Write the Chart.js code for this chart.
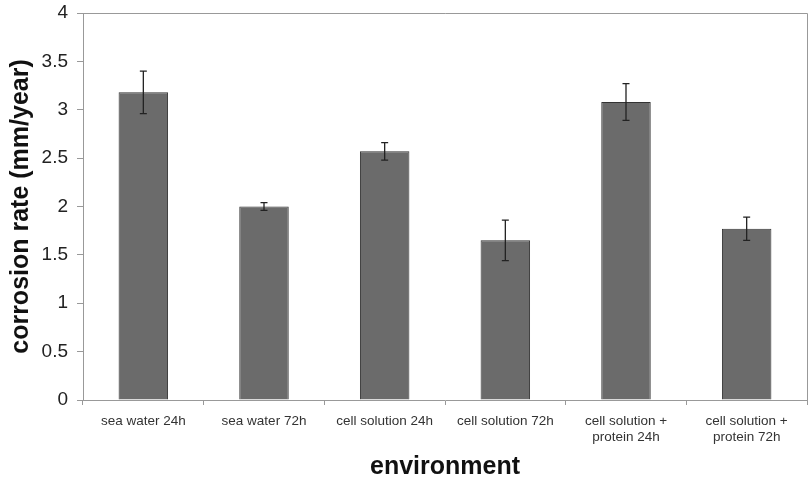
<!DOCTYPE html>
<html>
<head>
<meta charset="utf-8">
<script src="https://cdn.jsdelivr.net/npm/chart.js@4.4.1/dist/chart.umd.min.js"></script>
<style>
  html, body { margin: 0; padding: 0; background: #fff; }
  #wrap { width: 811px; height: 489px; }
</style>
</head>
<body>
<div id="wrap"><canvas id="canvas" width="811" height="489"></canvas></div>
<script>
var categories = [
    'sea water 24h',
    'sea water 72h',
    'cell solution 24h',
    'cell solution 72h',
    ['cell solution +', 'protein 24h'],
    ['cell solution +', 'protein 72h']
];
var corrosionRate = [3.18, 2.00, 2.57, 1.65, 3.08, 1.77];
var errorSize = [0.22, 0.04, 0.09, 0.21, 0.19, 0.12];

var fontFamily = '"Liberation Sans", Arial, sans-serif';

// error bars drawn through the y scale
var errorBarPlugin = {
    id: 'errorBars',
    afterDatasetsDraw: function (chart) {
        var ctx = chart.ctx;
        var yScale = chart.scales.y;
        var meta = chart.getDatasetMeta(0);
        ctx.save();
        ctx.strokeStyle = '#222';
        ctx.lineWidth = 1.3;
        meta.data.forEach(function (bar, i) {
            var x = bar.x;
            var yTop = yScale.getPixelForValue(corrosionRate[i] + errorSize[i]);
            var yBot = yScale.getPixelForValue(corrosionRate[i] - errorSize[i]);
            ctx.beginPath();
            ctx.moveTo(x, yTop); ctx.lineTo(x, yBot);
            ctx.moveTo(x - 3.5, yTop); ctx.lineTo(x + 3.5, yTop);
            ctx.moveTo(x - 3.5, yBot); ctx.lineTo(x + 3.5, yBot);
            ctx.stroke();
        });
        ctx.restore();
    }
};

// top and right edges of the plot box
var framePlugin = {
    id: 'frame',
    afterDraw: function (chart) {
        var a = chart.chartArea;
        var ctx = chart.ctx;
        ctx.save();
        ctx.strokeStyle = '#999';
        ctx.lineWidth = 1;
        ctx.beginPath();
        ctx.moveTo(a.left, a.top + 0.5);
        ctx.lineTo(a.right + 0.5, a.top + 0.5);
        ctx.lineTo(a.right + 0.5, a.bottom);
        ctx.stroke();
        ctx.restore();
    }
};

var ctx = document.getElementById('canvas').getContext('2d');
var myChart = new Chart(ctx, {
    type: 'bar',
    data: {
        labels: categories,
        datasets: [{
            data: corrosionRate,
            backgroundColor: '#6b6b6b',
            borderColor: '#333',
            borderWidth: 1,
            barPercentage: 0.82,
            categoryPercentage: 0.5
        }]
    },
    options: {
        responsive: false,
        animation: false,
        devicePixelRatio: 1,
        layout: { padding: { top: 13, right: 4, left: 0, bottom: 0 } },
        plugins: {
            legend: { display: false },
            tooltip: { enabled: false }
        },
        scales: {
            x: {
                afterFit: function (scale) { scale.height = 89; },
                grid: {
                    offset: true,
                    drawOnChartArea: false,
                    drawTicks: true,
                    tickLength: 5,
                    color: '#999'
                },
                border: { display: true, color: '#999' },
                ticks: {
                    color: '#333',
                    font: { family: fontFamily, size: 13.5 },
                    padding: 8,
                    maxRotation: 0,
                    autoSkip: false
                },
                title: {
                    display: true,
                    text: 'environment',
                    color: '#111',
                    font: { family: fontFamily, size: 25, weight: 'bold' },
                    padding: { top: 0, bottom: 7 }
                }
            },
            y: {
                min: 0,
                max: 4,
                afterFit: function (scale) {
                    scale.width = 83;
                    scale.paddingTop = 0;
                    scale.paddingBottom = 0;
                },
                grid: {
                    drawOnChartArea: false,
                    drawTicks: true,
                    tickLength: 6,
                    color: '#999'
                },
                border: { display: true, color: '#999' },
                ticks: {
                    stepSize: 0.5,
                    color: '#222',
                    font: { family: fontFamily, size: 19 },
                    padding: 9,
                    callback: function (value) { return String(value); }
                },
                title: {
                    display: true,
                    text: 'corrosion rate (mm/year)',
                    color: '#111',
                    font: { family: fontFamily, size: 25, weight: 'bold' },
                    padding: { top: 6, bottom: 0 }
                }
            }
        }
    },
    plugins: [errorBarPlugin, framePlugin]
});
</script>
</body>
</html>
